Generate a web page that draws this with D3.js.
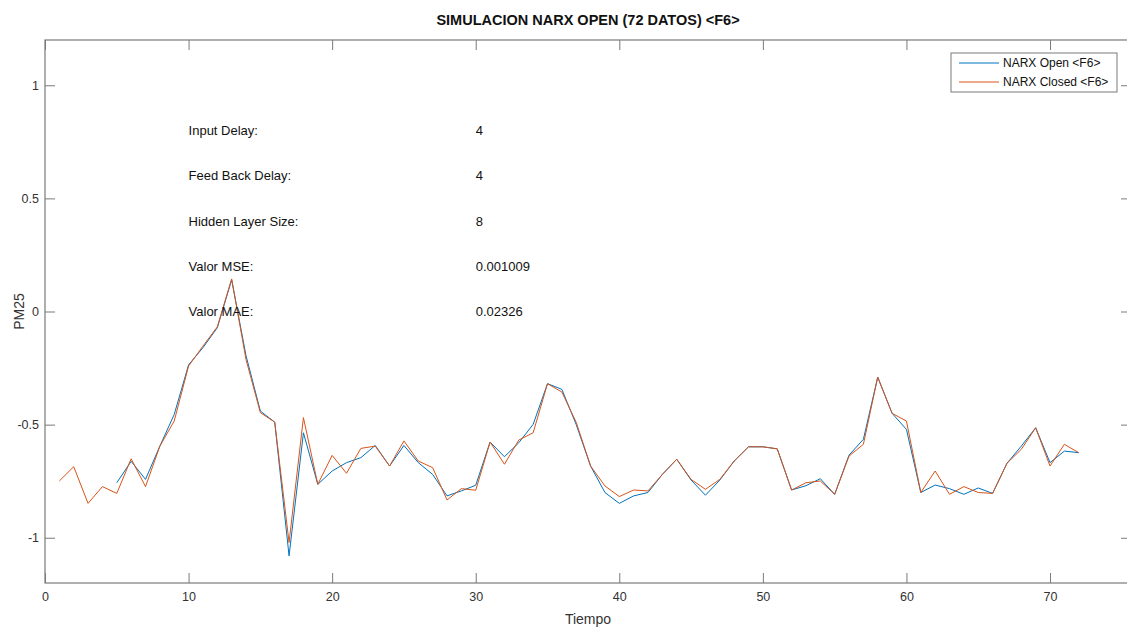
<!DOCTYPE html>
<html>
<head>
<meta charset="utf-8">
<script src="https://cdn.jsdelivr.net/npm/d3@7"></script>
<style>
  html, body { margin: 0; padding: 0; background: #fff; }
  svg { display: block; font-family: "Liberation Sans", Arial, Helvetica, sans-serif; }
</style>
</head>
<body>
<svg id="chart" width="1127" height="630"></svg>
<script>
// Closed-loop NARX simulation, samples 1..72
const closedX = d3.range(1, 73);
const closedY = [
  -0.749, -0.686, -0.848, -0.774, -0.804, -0.651, -0.774, -0.595, -0.484, -0.241,
  -0.153, -0.068, 0.144, -0.212, -0.447, -0.489, -1.021, -0.469, -0.764, -0.636,
  -0.715, -0.605, -0.595, -0.683, -0.572, -0.661, -0.690, -0.833, -0.783, -0.790,
  -0.577, -0.675, -0.568, -0.536, -0.319, -0.356, -0.490, -0.683, -0.771, -0.818,
  -0.789, -0.793, -0.720, -0.653, -0.742, -0.786, -0.742, -0.661, -0.598, -0.598,
  -0.607, -0.789, -0.757, -0.749, -0.808, -0.639, -0.587, -0.290, -0.450, -0.484,
  -0.800, -0.705, -0.808, -0.774, -0.800, -0.804, -0.671, -0.609, -0.514, -0.683,
  -0.587, -0.624
];

// Open-loop NARX simulation, starts after the 4-sample delay
const openX = d3.range(5, 73);
const openY = [
  -0.757, -0.662, -0.742, -0.595, -0.455, -0.236,
  -0.160, -0.072, 0.140, -0.195, -0.440, -0.489, -1.080, -0.536, -0.764, -0.705,
  -0.668, -0.646, -0.592, -0.683, -0.592, -0.668, -0.720, -0.815, -0.793, -0.768,
  -0.577, -0.642, -0.580, -0.499, -0.319, -0.344, -0.500, -0.683, -0.800, -0.848,
  -0.815, -0.800, -0.720, -0.653, -0.745, -0.812, -0.745, -0.661, -0.598, -0.598,
  -0.607, -0.789, -0.770, -0.739, -0.808, -0.635, -0.565, -0.290, -0.450, -0.521,
  -0.800, -0.767, -0.783, -0.808, -0.780, -0.804, -0.671, -0.595, -0.514, -0.668,
  -0.617, -0.624
];

const xTicks = [0, 10, 20, 30, 40, 50, 60, 70];
const yTicks = [-1, -0.5, 0, 0.5, 1];

const infoLabels = ["Input Delay:", "Feed Back Delay:", "Hidden Layer Size:", "Valor MSE:", "Valor MAE:"];
const infoValues = ["4", "4", "8", "0.001009", "0.02326"];

const seriesNames = ["NARX Open <F6>", "NARX Closed <F6>"];
const seriesColors = ["#0072BD", "#D95319"];

const titleText = "SIMULACION NARX OPEN (72 DATOS) <F6>";
const xLabel = "Tiempo";
const yLabel = "PM25";

// Layout
const svg = d3.select("#chart");
const plotL = 45, plotR = 1131, plotT = 40, plotB = 583;
const axisColor = "#7a7a7a";
const textColor = "#333";

const x = d3.scaleLinear().domain([0, 75.64]).range([plotL, plotR]);
const y = d3.scaleLinear().domain([-1.2, 1.2]).range([plotB, plotT]);

// Axes with inward ticks on all four sides
function styleAxis(g) {
  g.select(".domain").remove();
  g.selectAll(".tick line").attr("stroke", axisColor);
  g.selectAll(".tick text").attr("fill", textColor).style("font-size", "12.5px")
    .style("font-family", '"Liberation Sans", Arial, sans-serif');
}

svg.append("g")
  .attr("transform", `translate(0,${plotB})`)
  .call(d3.axisBottom(x).tickValues(xTicks).tickFormat(d3.format("d")).tickSize(-10).tickPadding(9))
  .call(styleAxis);

svg.append("g")
  .attr("transform", `translate(0,${plotT})`)
  .call(d3.axisTop(x).tickValues(xTicks).tickFormat("").tickSize(-10))
  .call(styleAxis);

svg.append("g")
  .attr("transform", `translate(${plotL},0)`)
  .call(d3.axisLeft(y).tickValues(yTicks).tickFormat(d => String(d)).tickSize(-10).tickPadding(6))
  .call(styleAxis);

svg.append("g")
  .attr("transform", `translate(${plotR},0)`)
  .call(d3.axisRight(y).tickValues(yTicks).tickFormat("").tickSize(-10))
  .call(styleAxis);

// Box
svg.append("rect")
  .attr("x", plotL).attr("y", plotT)
  .attr("width", plotR - plotL).attr("height", plotB - plotT)
  .attr("fill", "none").attr("stroke", axisColor).attr("stroke-width", 1.2);

// Series lines
const line = d3.line().x(d => x(d[0])).y(d => y(d[1]));
const series = [
  d3.zip(openX, openY),
  d3.zip(closedX, closedY)
];
series.forEach((pts, i) => {
  svg.append("path")
    .datum(pts)
    .attr("d", line)
    .attr("fill", "none")
    .attr("stroke", seriesColors[i])
    .attr("stroke-width", 1)
    .attr("stroke-linejoin", "round");
});

// Network parameter annotations, placed in data units
infoLabels.forEach((lab, i) => {
  const yy = y(0.8 - 0.2 * i);
  svg.append("text")
    .attr("x", x(10)).attr("y", yy).attr("dy", "0.35em")
    .attr("fill", "#111").style("font-size", "13px")
    .text(lab);
  svg.append("text")
    .attr("x", x(30)).attr("y", yy).attr("dy", "0.35em")
    .attr("fill", "#111").style("font-size", "13px")
    .text(infoValues[i]);
});

// Title and axis labels
svg.append("text")
  .attr("x", (plotL + plotR) / 2).attr("y", 25)
  .attr("text-anchor", "middle")
  .attr("fill", "#111").style("font-size", "14.5px").style("font-weight", "bold")
  .text(titleText);

svg.append("text")
  .attr("x", (plotL + plotR) / 2).attr("y", 624)
  .attr("text-anchor", "middle")
  .attr("fill", textColor).style("font-size", "14px")
  .text(xLabel);

svg.append("text")
  .attr("transform", `translate(24,${(plotT + plotB) / 2}) rotate(-90)`)
  .attr("text-anchor", "middle")
  .attr("fill", textColor).style("font-size", "14px")
  .text(yLabel);

// Legend
const lg = svg.append("g");
lg.append("rect")
  .attr("x", 951).attr("y", 53).attr("width", 166).attr("height", 39)
  .attr("fill", "#fff").attr("stroke", axisColor).attr("stroke-width", 1);
seriesNames.forEach((name, i) => {
  const ly = 63 + i * 19;
  lg.append("line")
    .attr("x1", 959).attr("x2", 999).attr("y1", ly).attr("y2", ly)
    .attr("stroke", seriesColors[i]).attr("stroke-width", 1);
  lg.append("text")
    .attr("x", 1003).attr("y", ly).attr("dy", "0.35em")
    .attr("fill", "#111").style("font-size", "12px")
    .text(name);
});
</script>
</body>
</html>
